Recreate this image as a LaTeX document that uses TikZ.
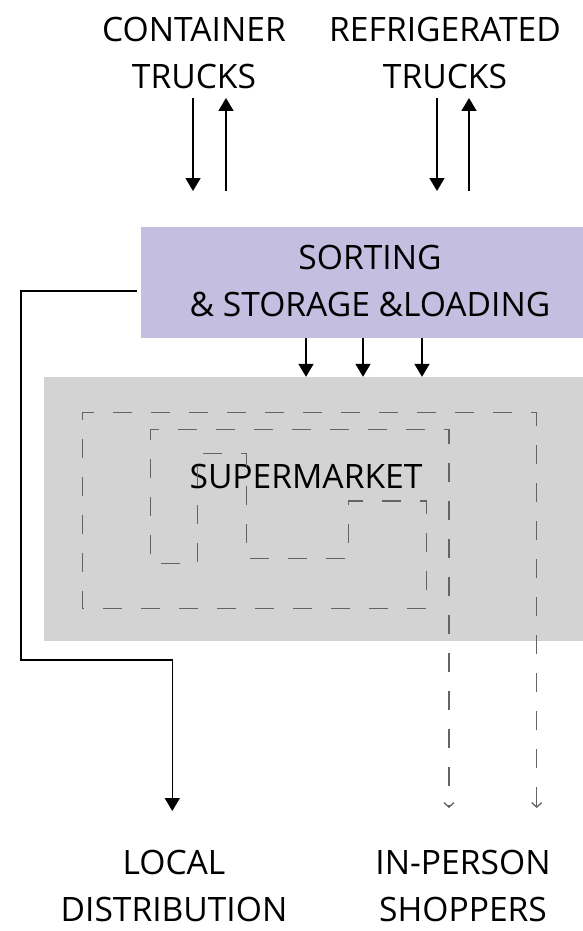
\documentclass[tikz,border=0pt]{standalone}
\usepackage{fontspec}
\setmainfont{Open Sans}
\usetikzlibrary{arrows.meta}
\definecolor{sortcol}{RGB}{196,191,224}
\definecolor{marketcol}{RGB}{211,211,211}
\definecolor{dashcol}{RGB}{100,100,100}
\begin{document}
\begin{tikzpicture}[x=1pt,y=-1pt,
  lbl/.style={font=\fontsize{33.6}{47}\selectfont, align=center, inner sep=0pt, anchor=base},
  sortbox/.style={fill=sortcol, draw=none, inner sep=0pt, minimum width=442pt, minimum height=111pt},
  marketbox/.style={fill=marketcol, draw=none, inner sep=0pt, minimum width=539pt, minimum height=264pt},
  flow/.style={line width=1.6pt, -{Triangle[length=13pt,width=15pt]}},
  walk/.style={draw=dashcol, line width=1.4pt, dash pattern=on 19pt off 19pt,
     {Straight Barb[length=4.5pt,width=10pt,line width=1.3pt]}-{Straight Barb[length=4.5pt,width=10pt,line width=1.3pt]}}
]
\useasboundingbox (0,0) rectangle (583,931);
% boxes
\node[sortbox] (sort) at (362,282.5) {};
\node[marketbox] (market) at (313.5,509) {};
% labels (base anchor = baseline of last line)
\node[lbl] (ct) at (194,88.3) {CONTAINER\\TRUCKS};
\node[lbl] (rt) at (445,88.3) {REFRIGERATED\\TRUCKS};
\node[lbl] (sorttxt) at (370,316) {SORTING\\\& STORAGE \&LOADING};
\node[lbl] (mkttxt) at (306,488) {SUPERMARKET};
\node[lbl] (local) at (174,921) {LOCAL\\DISTRIBUTION};
\node[lbl] (shop) at (463,921) {IN-PERSON\\SHOPPERS};
% truck arrows
\coordinate (c1a) at (193,98);  \coordinate (c1b) at (193,191);
\coordinate (c2a) at (226,191); \coordinate (c2b) at (226,98);
\coordinate (r1a) at (437,98);  \coordinate (r1b) at (437,191);
\coordinate (r2a) at (469,191); \coordinate (r2b) at (469,98);
\draw[flow] (c1a) -- (c1b);
\draw[flow] (c2a) -- (c2b);
\draw[flow] (r1a) -- (r1b);
\draw[flow] (r2a) -- (r2b);
% sort to market
\foreach \xx in {306,363,422}{
  \draw[flow] (sort.south -| {(\xx,0)}) -- (market.north -| {(\xx,0)});
}
% local distribution
\coordinate (ldend) at (172.3,811);
\draw[flow]
  ([xshift=-4pt]sort.west |- {(0,290.7)}) -- (20.7,290.7) -- (20.7,660) -- (172.3,660) -- (ldend);
% shopper walk
\coordinate (w1) at (536.7,808);
\coordinate (w2) at (449,808);
\draw[walk] (w1) -- (536.7,412.7) -- (82.7,412.7) -- (82.7,608.3) -- (426.7,608.3)
  -- (426.7,501) -- (348.3,501) -- (348.3,558.3) -- (246.3,558.3) -- (246.3,453.3)
  -- (197.7,453.3) -- (197.7,563.3) -- (150.7,563.3) -- (150.7,429.7) -- (449,429.7) -- (w2);
\end{tikzpicture}
\end{document}
